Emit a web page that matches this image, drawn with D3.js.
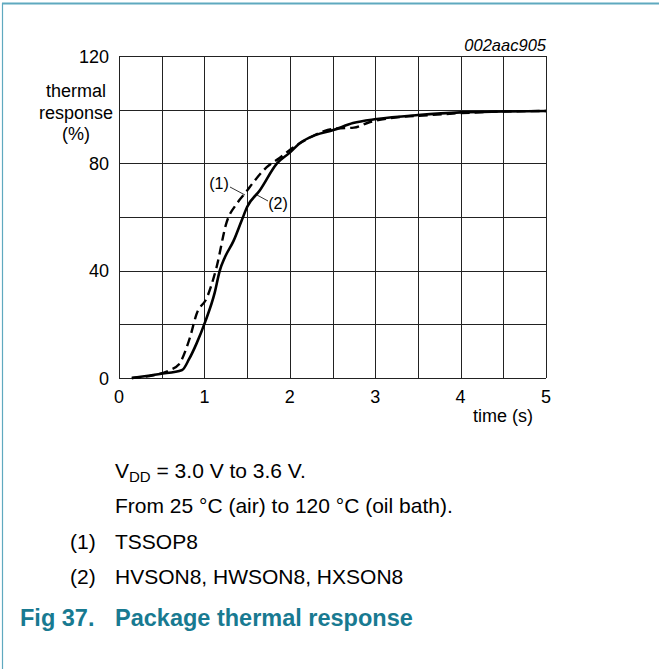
<!DOCTYPE html>
<html>
<head>
<meta charset="utf-8">
<script src="https://cdn.jsdelivr.net/npm/d3@7"></script>
<style>
  body { margin: 0; background: #fff; }
  svg { display: block; font-family: "Liberation Sans", Arial, sans-serif; }
</style>
</head>
<body>
<div id="graph-container"></div>
<script>
// ---- data ----
var xTicks = [0, 1, 2, 3, 4, 5];
var yTicks = [0, 40, 80, 120];

// (1) TSSOP8 - dashed
var tssopTime  = [0.15, 0.4, 0.6, 0.7, 0.83, 0.91, 1.03, 1.14, 1.26, 1.38, 1.48, 1.6, 1.73, 1.88, 2.0, 2.2, 2.4, 2.55, 2.75, 2.94, 3.17, 3.64, 4.0, 4.46, 5.0];
var tssopValue = [0, 1, 3, 5, 15, 24, 30, 41, 58, 65, 69, 74, 78.6, 82, 85, 89, 92, 93, 93.3, 95.4, 96.8, 98, 98.7, 99.3, 99.5];

// (2) HVSON8, HWSON8, HXSON8 - solid
var hvsonTime  = [0.15, 0.48, 0.74, 0.82, 0.91, 1.01, 1.12, 1.18, 1.24, 1.34, 1.44, 1.5, 1.65, 1.85, 2.0, 2.12, 2.3, 2.51, 2.74, 3.02, 3.5, 4.0, 4.5, 5.0];
var hvsonValue = [0, 1.5, 3, 7, 13, 21, 31.7, 40, 45, 51, 59, 63.7, 70, 80, 84, 87.6, 90.5, 92.4, 95, 96.5, 98, 99, 99.3, 99.5];

var notes = ["From 25 \u00B0C (air) to 120 \u00B0C (oil bath)."];
var legendKeys = ["(1)", "(2)"];
var legendNames = ["TSSOP8", "HVSON8, HWSON8, HXSON8"];

// ---- layout ----
var W = 659, H = 669;
var plot = {left: 119, right: 546, top: 56, bottom: 378};
var axisFont = '18px';
var noteFont = '21px';

var svg = d3.select('#graph-container').append('svg')
    .attr('width', W).attr('height', H);

// frame of the figure box
svg.append('line').attr('x1', 2).attr('x2', W).attr('y1', 3.5).attr('y2', 3.5)
    .style('stroke', '#5fa9bf').style('stroke-width', 2);
svg.append('line').attr('x1', 2.5).attr('x2', 2.5).attr('y1', 3).attr('y2', H)
    .style('stroke', '#5fa9bf').style('stroke-width', 1.2);

var x = d3.scaleLinear().domain([0, 5]).range([plot.left, plot.right]);
var y = d3.scaleLinear().domain([0, 120]).range([plot.bottom, plot.top]);

var g = svg.append('g');

// grid: every 0.5 s and every 20 %
var gx = d3.range(0, 5.01, 0.5);
var gy = d3.range(0, 120.1, 20);
g.selectAll('.vgrid').data(gx).enter().append('line')
    .attr('x1', d => Math.round(x(d)) + 0.5).attr('x2', d => Math.round(x(d)) + 0.5)
    .attr('y1', plot.top).attr('y2', plot.bottom)
    .style('stroke', '#222').style('stroke-width', 1);
g.selectAll('.hgrid').data(gy).enter().append('line')
    .attr('y1', d => Math.round(y(d)) + 0.5).attr('y2', d => Math.round(y(d)) + 0.5)
    .attr('x1', plot.left).attr('x2', plot.right)
    .style('stroke', '#222').style('stroke-width', 1);

// tick labels
g.selectAll('.ylab').data(yTicks).enter().append('text')
    .attr('x', 109).attr('y', d => y(d) + 6.5)
    .attr('text-anchor', 'end').style('font-size', axisFont)
    .text(d => d);
g.selectAll('.xlab').data(xTicks).enter().append('text')
    .attr('x', d => x(d)).attr('y', 403)
    .attr('text-anchor', 'middle').style('font-size', axisFont)
    .text(d => d);

// axis titles
['thermal', 'response', '(%)'].forEach((s, i) => {
    g.append('text').attr('x', 76).attr('y', 97 + i * 21.5)
        .attr('text-anchor', 'middle').style('font-size', axisFont).text(s);
});
g.append('text').attr('x', 503).attr('y', 422)
    .attr('text-anchor', 'middle').style('font-size', axisFont).text('time (s)');
g.append('text').attr('x', plot.right).attr('y', 51)
    .attr('text-anchor', 'end').style('font-size', '16.5px').style('font-style', 'italic')
    .text('002aac905');

// curves
var line = d3.line().x(d => x(d[0])).y(d => y(d[1])).curve(d3.curveMonotoneX);
g.append('path').datum(d3.zip(tssopTime, tssopValue)).attr('d', line)
    .style('fill', 'none').style('stroke', '#000').style('stroke-width', 2.4)
    .style('stroke-dasharray', '9,5');
g.append('path').datum(d3.zip(hvsonTime, hvsonValue)).attr('d', line)
    .style('fill', 'none').style('stroke', '#000').style('stroke-width', 2.6);

// curve labels with leader lines
g.append('text').attr('x', 219).attr('y', 189).attr('text-anchor', 'middle')
    .style('font-size', '16px').text(legendKeys[0]);
g.append('line').attr('x1', 230).attr('y1', 187).attr('x2', 245).attr('y2', 195)
    .style('stroke', '#000').style('stroke-width', 0.8);
g.append('text').attr('x', 278).attr('y', 209).attr('text-anchor', 'middle')
    .style('font-size', '16px').text(legendKeys[1]);
g.append('line').attr('x1', 268).attr('y1', 201).attr('x2', 257).attr('y2', 195)
    .style('stroke', '#000').style('stroke-width', 0.8);

// notes below the chart
var nt = svg.append('text').attr('x', 115).attr('y', 478).style('font-size', noteFont);
nt.append('tspan').text('V');
nt.append('tspan').attr('dy', 4).style('font-size', '15px').text('DD');
nt.append('tspan').attr('dy', -4).text(' = 3.0 V to 3.6 V.');
svg.append('text').attr('x', 115).attr('y', 513).style('font-size', noteFont).text(notes[0]);

legendKeys.forEach((k, i) => {
    svg.append('text').attr('x', 70).attr('y', 549 + i * 35).style('font-size', noteFont).text(k);
    svg.append('text').attr('x', 115).attr('y', 549 + i * 35).style('font-size', noteFont).text(legendNames[i]);
});

var cap = svg.append('text').attr('x', 20).attr('y', 626)
    .style('font-size', '23.5px').style('font-weight', 'bold').style('fill', '#187a91');
cap.append('tspan').text('Fig 37.');
cap.append('tspan').attr('x', 115).text('Package thermal response');
</script>
</body>
</html>
